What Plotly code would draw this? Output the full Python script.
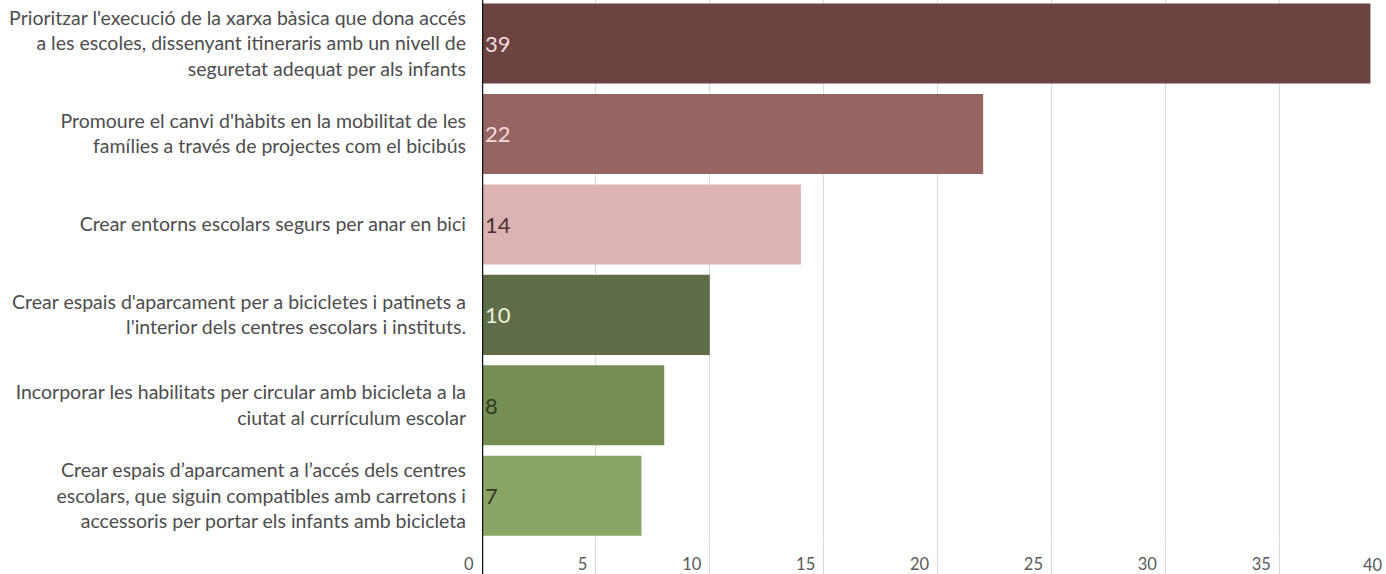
import plotly.graph_objects as go

categories = [
    "Prioritzar l'execució de la xarxa bàsica que dona accés<br>a les escoles, dissenyant itineraris amb un nivell de<br>seguretat adequat per als infants",
    "Promoure el canvi d'hàbits en la mobilitat de les<br>famílies a través de projectes com el bicibús",
    "Crear entorns escolars segurs per anar en bici",
    "Crear espais d'aparcament per a bicicletes i patinets a<br>l'interior dels centres escolars i instituts.",
    "Incorporar les habilitats per circular amb bicicleta a la<br>ciutat al currículum escolar",
    "Crear espais d’aparcament a l’accés dels centres<br>escolars, que siguin compatibles amb carretons i<br>accessoris per portar els infants amb bicicleta",
]
values = [39, 22, 14, 10, 8, 7]
bar_colors = ["#6b4341", "#956563", "#dbb3b2", "#5e6d47", "#768e54", "#8aa565"]
text_colors = ["#f3dedb", "#f6dcd9", "#4a3434", "#eef0dc", "#2e3a1f", "#2e3a1f"]
tick_vals = [0, 5, 10, 15, 20, 25, 30, 35]
last_tick = 40

W, H = 1386, 574
ML, MB = 482, 33
unit_px = 22.78
xmax = (W - ML) / unit_px
band_px = 90.4
plot_h = H - MB
ytop = -0.5 + 1.7 / band_px

FONT = "Lato"

fig = go.Figure()
fig.add_trace(go.Bar(
    y=categories, x=values, orientation="h",
    marker=dict(color=bar_colors, line=dict(width=0)),
    text=[str(v) for v in values], textposition="inside",
    insidetextanchor="start",
    textfont=dict(family=FONT, size=22, color=text_colors),
    cliponaxis=False, hoverinfo="skip",
))

fig.update_layout(
    width=W, height=H,
    margin=dict(l=ML, r=0, t=0, b=MB, pad=0),
    paper_bgcolor="white", plot_bgcolor="white",
    bargap=0.115, showlegend=False,
    font=dict(family=FONT, color="#4d4d4d"),
    xaxis=dict(
        range=[0, xmax], tickvals=tick_vals,
        showgrid=True, gridcolor="#d9d9d9", gridwidth=1,
        zeroline=False, showline=False,
        ticks="outside", ticklen=MB, tickcolor="#d9d9d9", tickwidth=1,
        ticklabelposition="outside left", ticklabelstandoff=8,
        ticklabelshift=-8,
        tickfont=dict(family=FONT, size=16.5, color="#595959"),
    ),
    yaxis=dict(
        range=[5.5, ytop], showgrid=False, zeroline=False, showline=False,
        ticks="", ticklabelstandoff=15, automargin=False,
        tickfont=dict(family=FONT, size=19.5, color="#4d4d4d"),
    ),
)

# vertical axis line at zero, extending through tick-label band
fig.add_shape(type="line", xref="x", yref="paper", x0=0, x1=0,
              y0=-MB / plot_h - 0.01, y1=1, line=dict(color="#141414", width=2.5))

# last tick label (40) lies just outside the visible range
fig.add_annotation(xref="paper", yref="paper", x=last_tick / xmax, y=0,
                   xanchor="right", yanchor="top", xshift=-8, yshift=-12,
                   text=str(last_tick), showarrow=False,
                   font=dict(family=FONT, size=16.5, color="#595959"))

fig.write_html(
    "out.html",
    config={"displayModeBar": False},
    post_script="document.body.style.margin='0';document.body.style.overflow='hidden';",
)
